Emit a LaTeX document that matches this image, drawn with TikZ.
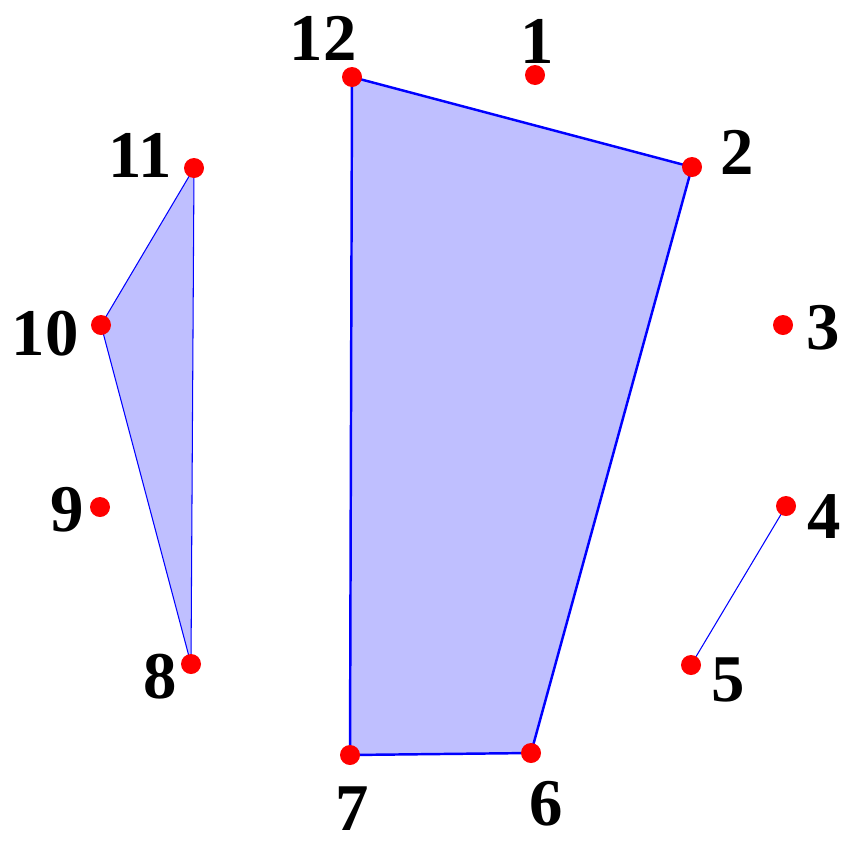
\documentclass[tikz,border=0pt]{standalone}
\usepackage{fontspec}
\setmainfont{Liberation Serif}
\usepackage{xcolor}
\usepackage{tikz}
\usetikzlibrary{calc}
\definecolor{AzulBorde}{RGB}{0,0,255}
\definecolor{AzulRelleno}{RGB}{191,191,255}
\definecolor{RojoPunto}{RGB}{255,0,0}

\begin{document}
\begin{tikzpicture}[x=0.02cm,y=-0.02cm,
    etiqueta/.style={font=\fontsize{38}{44}\selectfont\bfseries,inner sep=0pt}]
  \useasboundingbox (0,0) rectangle (844,842);
  % vertices
  \coordinate (P12) at (352,77);
  \coordinate (P1)  at (535,75);
  \coordinate (P2)  at (692,167);
  \coordinate (P3)  at (783,325);
  \coordinate (P4)  at (786,506);
  \coordinate (P5)  at (691,665);
  \coordinate (P6)  at (531,753);
  \coordinate (P7)  at (350,755);
  \coordinate (P8)  at (191,664);
  \coordinate (P9)  at (100,507);
  \coordinate (P10) at (101,325);
  \coordinate (P11) at (194,168);
  % polygons
  \filldraw[fill=AzulRelleno,draw=AzulBorde,line width=1.4pt,line join=round]
    (P12) -- (P2) -- (P6) -- (P7) -- cycle;
  \filldraw[fill=AzulRelleno,draw=AzulBorde,line width=0.6pt,line join=round]
    (P11) -- (P10) -- (P8) -- cycle;
  \draw[AzulBorde,line width=0.6pt] (P4) -- (P5);
  % points
  \foreach \i in {1,...,12}
    \fill[RojoPunto] (P\i) circle (10);
  % labels
  \node[etiqueta] (L12) at (323,38)  {12};
  \node[etiqueta] (L1)  at (537,41)  {1};
  \node[etiqueta] (L2)  at (737,152) {2};
  \node[etiqueta] (L3)  at (823,328) {3};
  \node[etiqueta] (L4)  at (824,517) {4};
  \node[etiqueta] (L5)  at (728,680) {5};
  \node[etiqueta] (L6)  at (546,804) {6};
  \node[etiqueta] (L7)  at (352,809) {7};
  \node[etiqueta] (L8)  at (160,677) {8};
  \node[etiqueta] (L9)  at (67,510)  {9};
  \node[etiqueta] (L10) at (45,334)  {10};
  \node[etiqueta] (L11) at (140,155) {11};
\end{tikzpicture}
\end{document}
